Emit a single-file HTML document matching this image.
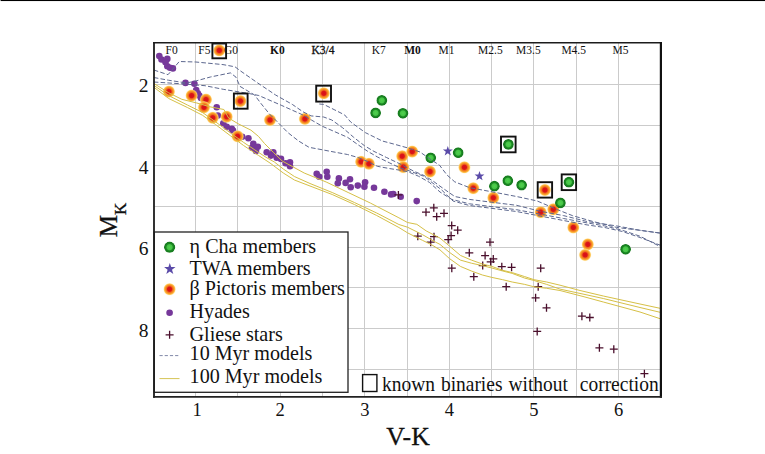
<!DOCTYPE html>
<html><head><meta charset="utf-8"><title>V-K vs MK</title>
<style>
html,body{margin:0;padding:0;background:#fff}
body{width:765px;height:454px;position:relative;overflow:hidden;font-family:"Liberation Serif",serif;color:#111}
div{position:absolute;white-space:nowrap;line-height:1}
.sp{top:43.8px;width:60px;text-align:center;font-size:11.5px;line-height:12px}
.xt{top:399.5px;width:40px;text-align:center;font-size:18.5px;line-height:20px}
.yt{left:119.5px;width:29px;text-align:right;font-size:19.5px;line-height:21px}
.lg{left:189.6px;font-size:20.1px;line-height:24px}
.kb{left:381.8px;top:372px;font-size:21.2px;line-height:24px;transform:scaleX(0.918);transform-origin:0 0;word-spacing:1.2px}
.xl{left:386.3px;top:423.4px;font-size:25.8px;line-height:28px;-webkit-text-stroke:0.3px #111}
.yl{left:59px;top:205.6px;width:100px;height:28px;font-size:25px;line-height:28px;text-align:center;transform:rotate(-90deg);transform-origin:50% 50%;-webkit-text-stroke:0.3px #111}
.yl span{font-size:17px;position:relative;top:9px}
</style></head><body>
<svg width="765" height="454" viewBox="0 0 765 454" style="position:absolute;left:0;top:0"><defs><radialGradient id="bp"><stop offset="0" stop-color="#d60f14"/><stop offset="0.34" stop-color="#dc161a"/><stop offset="0.5" stop-color="#ee6a1e"/><stop offset="0.7" stop-color="#f89a28"/><stop offset="0.84" stop-color="#ffc24e"/><stop offset="1" stop-color="#ffe6a0" stop-opacity="0.3"/></radialGradient><radialGradient id="gr"><stop offset="0" stop-color="#52cf50"/><stop offset="0.46" stop-color="#44c444"/><stop offset="0.64" stop-color="#1b8723"/><stop offset="0.92" stop-color="#157a1d"/><stop offset="1" stop-color="#157a1d" stop-opacity="0.55"/></radialGradient></defs><rect x="0" y="0" width="765" height="454" fill="#fff"/><rect x="0.6" y="0" width="765" height="1.05" fill="#000"/><path d="M195.5 42.7V396.8M237.5 42.7V396.8M280.5 42.7V396.8M322.5 42.7V396.8M364.5 42.7V396.8M407.5 42.7V396.8M449.5 42.7V396.8M491.5 42.7V396.8M533.5 42.7V396.8M576.5 42.7V396.8M618.5 42.7V396.8M154.0 84.5H660.9M154.0 125.5H660.9M154.0 165.5H660.9M154.0 206.5H660.9M154.0 247.5H660.9M154.0 287.5H660.9M154.0 328.5H660.9M154.0 369.5H660.9" stroke="#cbcbcb" stroke-width="1" fill="none"/><circle cx="159.3" cy="56" r="3.3" fill="#76389a"/><circle cx="161.5" cy="59.5" r="3.3" fill="#76389a"/><circle cx="167.3" cy="58.9" r="3.3" fill="#76389a"/><circle cx="165.5" cy="62.2" r="3.3" fill="#76389a"/><circle cx="167.3" cy="66.2" r="3.3" fill="#76389a"/><circle cx="172.9" cy="68.4" r="3.3" fill="#76389a"/><circle cx="170" cy="67.8" r="3.3" fill="#76389a"/><circle cx="185.5" cy="82.9" r="3.3" fill="#76389a"/><circle cx="194.4" cy="83.8" r="3.3" fill="#76389a"/><circle cx="196.2" cy="90" r="3.3" fill="#76389a"/><circle cx="197.8" cy="93.3" r="3.3" fill="#76389a"/><circle cx="199.3" cy="95.6" r="3.3" fill="#76389a"/><circle cx="201" cy="98" r="3.3" fill="#76389a"/><circle cx="216.7" cy="107.3" r="3.3" fill="#76389a"/><circle cx="217.8" cy="115.5" r="3.3" fill="#76389a"/><circle cx="223.3" cy="123.3" r="3.3" fill="#76389a"/><circle cx="226.7" cy="126.7" r="3.3" fill="#76389a"/><circle cx="231.8" cy="128.9" r="3.3" fill="#76389a"/><circle cx="233" cy="130.5" r="3.3" fill="#76389a"/><circle cx="242.2" cy="136.7" r="3.3" fill="#76389a"/><circle cx="248.4" cy="138.2" r="3.3" fill="#76389a"/><circle cx="253.3" cy="143.8" r="3.3" fill="#76389a"/><circle cx="257.8" cy="146.7" r="3.3" fill="#76389a"/><circle cx="252" cy="147.8" r="3.3" fill="#76389a"/><circle cx="256" cy="151" r="3.3" fill="#76389a"/><circle cx="266.7" cy="152.2" r="3.3" fill="#76389a"/><circle cx="273.3" cy="152.2" r="3.3" fill="#76389a"/><circle cx="271" cy="155.6" r="3.3" fill="#76389a"/><circle cx="276.7" cy="157.8" r="3.3" fill="#76389a"/><circle cx="281" cy="158.9" r="3.3" fill="#76389a"/><circle cx="285.6" cy="163.3" r="3.3" fill="#76389a"/><circle cx="290" cy="162.2" r="3.3" fill="#76389a"/><circle cx="290" cy="166.2" r="3.3" fill="#76389a"/><circle cx="316.7" cy="173.8" r="3.3" fill="#76389a"/><circle cx="319.3" cy="176.7" r="3.3" fill="#76389a"/><circle cx="326.7" cy="171.8" r="3.3" fill="#76389a"/><circle cx="327.3" cy="176.7" r="3.3" fill="#76389a"/><circle cx="338.9" cy="178.4" r="3.3" fill="#76389a"/><circle cx="337.8" cy="183.3" r="3.3" fill="#76389a"/><circle cx="345.6" cy="182.9" r="3.3" fill="#76389a"/><circle cx="350" cy="179.3" r="3.3" fill="#76389a"/><circle cx="350.7" cy="187.3" r="3.3" fill="#76389a"/><circle cx="357.8" cy="185.6" r="3.3" fill="#76389a"/><circle cx="365.1" cy="182.2" r="3.3" fill="#76389a"/><circle cx="364.4" cy="186.7" r="3.3" fill="#76389a"/><circle cx="374" cy="187.8" r="3.3" fill="#76389a"/><circle cx="384.4" cy="191.8" r="3.3" fill="#76389a"/><circle cx="391.1" cy="194.4" r="3.3" fill="#76389a"/><circle cx="393.3" cy="194" r="3.3" fill="#76389a"/><circle cx="400.7" cy="196.7" r="3.3" fill="#76389a"/><circle cx="416.7" cy="201.1" r="3.3" fill="#76389a"/><path d="M394.4 194.9h8M398.4 190.9v8M422.0 212.2h8M426.0 208.2v8M429.8 207.8h8M433.8 203.8v8M432.7 216.7h8M436.7 212.7v8M440.0 213.3h8M444.0 209.3v8M447.7 225.6h8M451.7 221.6v8M453.7 230.2h8M457.7 226.2v8M413.8 236.2h8M417.8 232.2v8M430.0 236.7h8M434.0 232.7v8M426.7 242.2h8M430.7 238.2v8M447.1 235.6h8M451.1 231.6v8M444.2 239.6h8M448.2 235.6v8M465.3 252.8h8M469.3 248.8v8M447.8 268.2h8M451.8 264.2v8M469.8 276.7h8M473.8 272.7v8M486.0 242.2h8M490.0 238.2v8M481.1 255.6h8M485.1 251.6v8M489.3 258.9h8M493.3 254.9v8M486.7 261.8h8M490.7 257.8v8M478.7 265.6h8M482.7 261.6v8M497.8 266.7h8M501.8 262.7v8M507.6 267.3h8M511.6 263.3v8M536.7 268.2h8M540.7 264.2v8M502.2 286.7h8M506.2 282.7v8M534.2 286.7h8M538.2 282.7v8M531.6 297.8h8M535.6 293.8v8M542.5 307.8h8M546.5 303.8v8M577.9 316.2h8M581.9 312.2v8M585.8 317.5h8M589.8 313.5v8M533.2 331.4h8M537.2 327.4v8M595.4 347.8h8M599.4 343.8v8M609.8 349.2h8M613.8 345.2v8M640.4 373.7h8M644.4 369.7v8" stroke="#4a0f2c" stroke-width="1.3" fill="none"/><circle cx="168.9" cy="91.6" r="6.3" fill="url(#bp)"/><circle cx="191.6" cy="95.6" r="6.3" fill="url(#bp)"/><circle cx="206" cy="99.6" r="6.3" fill="url(#bp)"/><circle cx="204" cy="107.3" r="6.3" fill="url(#bp)"/><circle cx="212.7" cy="117.8" r="6.3" fill="url(#bp)"/><circle cx="226.7" cy="116.7" r="6.3" fill="url(#bp)"/><circle cx="237.6" cy="136.3" r="6.3" fill="url(#bp)"/><circle cx="240.4" cy="101.1" r="6.3" fill="url(#bp)"/><circle cx="219.3" cy="50.4" r="6.3" fill="url(#bp)"/><circle cx="270" cy="120" r="6.3" fill="url(#bp)"/><circle cx="304.9" cy="118.9" r="6.3" fill="url(#bp)"/><circle cx="323.8" cy="93.3" r="6.3" fill="url(#bp)"/><circle cx="361.1" cy="161.8" r="6.3" fill="url(#bp)"/><circle cx="368.9" cy="163.8" r="6.3" fill="url(#bp)"/><circle cx="402.2" cy="156.2" r="6.3" fill="url(#bp)"/><circle cx="412.2" cy="151.6" r="6.3" fill="url(#bp)"/><circle cx="403.3" cy="167.1" r="6.3" fill="url(#bp)"/><circle cx="430" cy="171.6" r="6.3" fill="url(#bp)"/><circle cx="464.4" cy="167.3" r="6.3" fill="url(#bp)"/><circle cx="473.3" cy="188.2" r="6.3" fill="url(#bp)"/><circle cx="493.3" cy="197.8" r="6.3" fill="url(#bp)"/><circle cx="544.9" cy="190" r="6.3" fill="url(#bp)"/><circle cx="540.7" cy="212.2" r="6.3" fill="url(#bp)"/><circle cx="553.3" cy="209.3" r="6.3" fill="url(#bp)"/><circle cx="573.3" cy="227.5" r="6.3" fill="url(#bp)"/><circle cx="587.8" cy="244.4" r="6.3" fill="url(#bp)"/><circle cx="585.1" cy="254.9" r="6.3" fill="url(#bp)"/><circle cx="381.8" cy="100.4" r="5.4" fill="url(#gr)"/><circle cx="375.6" cy="112.9" r="5.4" fill="url(#gr)"/><circle cx="402.9" cy="113.3" r="5.4" fill="url(#gr)"/><circle cx="430.7" cy="157.8" r="5.4" fill="url(#gr)"/><circle cx="458.2" cy="152.7" r="5.4" fill="url(#gr)"/><circle cx="508.4" cy="144.4" r="5.4" fill="url(#gr)"/><circle cx="494.4" cy="186.2" r="5.4" fill="url(#gr)"/><circle cx="507.8" cy="180.7" r="5.4" fill="url(#gr)"/><circle cx="521.6" cy="185.1" r="5.4" fill="url(#gr)"/><circle cx="568.9" cy="182.2" r="5.4" fill="url(#gr)"/><circle cx="560.4" cy="202.9" r="5.4" fill="url(#gr)"/><circle cx="625.6" cy="249.3" r="5.4" fill="url(#gr)"/><polyline points="153.8,83.4 168.7,92.8 181.8,99.3 196.8,103.0 209.9,106.8 223.9,109.5 228.6,118.0 238.0,123.7 251.0,130.2 258.6,136.5 264.5,143.5 273.3,152.3 282.2,161.0 304.2,173.0 326.2,182.0 348.2,192.5 370.3,203.0 398.9,217.8 407.5,222.5 416.8,224.3 426.2,230.9 440.0,238.1 449.4,246.0 460.4,255.4 471.4,260.1 482.4,264.0 491.8,266.4 502.7,270.3 512.2,272.6 524.7,276.6 534.1,279.7 546.7,282.0 560.0,285.2 580.0,290.5 603.3,296.0 640.0,304.0 661.0,308.5" fill="none" stroke="#d6c046" stroke-width="1"/><polyline points="153.8,85.3 168.7,95.6 187.4,105.0 202.4,112.4 215.5,121.8 230.5,133.0 243.6,142.4 254.8,149.9 266.0,157.3 274.4,162.0 283.3,169.0 294.4,176.5 310.0,183.5 332.2,192.5 354.4,202.5 376.7,213.0 398.9,224.5 407.5,227.2 422.4,234.6 435.5,242.1 440.0,244.4 449.4,252.3 460.4,260.1 471.4,263.2 482.4,265.6 491.8,268.0 502.7,271.0 512.2,273.4 524.7,278.1 534.1,280.5 546.7,284.4 560.0,289.1 585.0,294.5 603.3,298.5 640.0,307.5 661.0,312.5" fill="none" stroke="#d6c046" stroke-width="1"/><polyline points="153.8,87.2 168.7,98.5 187.4,107.5 202.4,115.2 215.5,124.5 230.5,135.8 243.6,145.5 258.6,155.5 270.0,163.0 283.3,173.0 294.4,180.0 310.0,186.0 332.2,194.5 354.4,204.5 376.7,215.5 398.9,227.5 407.5,232.8 422.4,240.3 431.8,244.9 440.0,249.9 449.4,258.5 460.4,266.4 471.4,271.0 482.4,275.0 491.8,277.4 502.7,279.7 512.2,282.0 524.7,284.4 534.1,286.8 546.7,288.3 560.0,290.5 585.0,297.0 603.3,302.0 640.0,312.0 661.0,319.0" fill="none" stroke="#d6c046" stroke-width="1"/><polyline points="153.8,70.0 168.0,74.7 179.3,61.5 195.8,62.0 223.0,64.6 235.0,66.8 240.0,70.6 257.6,82.9 275.6,95.0 292.3,104.4 302.8,111.7 311.1,115.9 323.7,117.0 331.8,120.0 342.7,127.8 353.7,137.3 364.7,145.9 374.0,151.4 386.7,157.6 400.0,163.9 413.4,171.0 424.0,175.5 433.0,181.0 440.0,186.2 454.7,196.5 469.4,199.4 493.0,202.4 516.5,205.3 540.0,211.2 563.5,215.6 587.0,221.5 616.5,225.9 640.0,230.3 661.0,233.2" fill="none" stroke="#5d688f" stroke-width="1" stroke-dasharray="4.6 2.2"/><polyline points="153.8,77.5 168.3,80.2 186.6,83.0 195.8,81.0 210.4,77.0 230.5,72.9 236.0,77.2 240.0,86.4 254.6,95.0 260.9,103.4 269.3,113.8 277.7,122.2 288.0,132.7 298.6,141.0 309.0,147.3 322.4,149.8 335.0,152.2 347.5,154.5 358.4,157.6 367.8,161.6 377.3,166.3 389.8,168.6 400.0,170.2 408.0,171.7 418.7,176.3 429.3,182.3 440.0,192.0 451.8,199.4 469.4,203.8 493.0,206.8 516.5,209.7 540.0,214.1 563.5,218.5 587.0,222.9 604.7,225.9 622.4,230.3 640.0,236.2 661.0,247.0" fill="none" stroke="#5d688f" stroke-width="1" stroke-dasharray="4.6 2.2"/><polyline points="153.8,82.0 183.0,83.9 205.0,85.7 223.2,89.3 248.8,93.5 258.8,95.5 281.8,105.5 302.8,114.9 311.4,120.0 322.4,126.3 335.0,131.8 347.5,137.3 358.4,145.0 367.8,151.4 377.3,156.9 389.8,163.0 400.0,167.8 408.0,170.4 424.0,176.3 441.7,190.0 453.0,201.0 469.4,205.5 493.0,208.5 516.5,211.5 540.0,216.0 563.5,220.5 587.0,224.9 604.7,227.5 622.4,231.5 640.0,237.5 661.0,245.5" fill="none" stroke="#5d688f" stroke-width="1" stroke-dasharray="4.6 2.2"/><polyline points="319.3,104.0 323.7,104.4 334.1,109.6 344.6,114.9 350.9,122.2 365.5,132.7 382.3,141.0 393.6,144.0 408.0,148.0 420.0,152.0 429.3,158.5 439.5,165.2 447.0,175.0 454.7,181.8 469.4,187.6 493.0,192.0 516.5,196.5 537.0,200.9 557.6,209.7 572.4,215.6 593.0,221.5 616.5,227.4 640.0,230.3 661.0,233.2" fill="none" stroke="#5d688f" stroke-width="1" stroke-dasharray="4.6 2.2"/><polygon points="447.8,146.0 449.0,149.5 452.7,149.6 449.8,151.8 450.9,155.4 447.8,153.3 444.7,155.4 445.8,151.8 442.9,149.6 446.6,149.5" fill="#5a4aa8"/><polygon points="479.5,170.9 480.7,174.4 484.4,174.5 481.5,176.7 482.6,180.3 479.5,178.2 476.4,180.3 477.5,176.7 474.6,174.5 478.3,174.4" fill="#5a4aa8"/><rect x="212.4" y="43.5" width="13.7" height="14.8" fill="none" stroke="#111" stroke-width="1.9"/><rect x="233.9" y="93.5" width="13.7" height="15.2" fill="none" stroke="#111" stroke-width="1.9"/><rect x="316.2" y="85.7" width="14.8" height="15.9" fill="none" stroke="#111" stroke-width="1.9"/><rect x="501.0" y="136.6" width="14.6" height="15.7" fill="none" stroke="#111" stroke-width="1.9"/><rect x="561.7" y="174.4" width="14.4" height="15.7" fill="none" stroke="#111" stroke-width="1.9"/><rect x="537.7" y="182.2" width="14.4" height="15.4" fill="none" stroke="#111" stroke-width="1.9"/><rect x="154.2" y="232.0" width="193.8" height="160.3" fill="#fff" stroke="#222" stroke-width="1.3"/><circle cx="169.6" cy="247.2" r="5.6" fill="url(#gr)"/><polygon points="169.8,263.0 171.2,267.1 175.5,267.1 172.0,269.7 173.3,273.9 169.8,271.4 166.3,273.9 167.6,269.7 164.1,267.1 168.4,267.1" fill="#5a4aa8"/><circle cx="169.6" cy="289.2" r="6.3" fill="url(#bp)"/><circle cx="169.6" cy="312.8" r="3.3" fill="#76389a"/><path d="M165.6 334.8h8M169.6 330.8v8" stroke="#4a0f2c" stroke-width="1.3"/><path d="M159.5 355.6H180" stroke="#8088a8" stroke-width="1" stroke-dasharray="3.2 2"/><path d="M159.5 378.6H179.5" stroke="#d6c455" stroke-width="1"/><rect x="362.6" y="374.6" width="14.3" height="16.9" fill="#fff" stroke="#111" stroke-width="1.4"/><path d="M154.0 42.0V397.7" stroke="#1c1c1c" stroke-width="1.8" fill="none"/><path d="M153.1 42.7H662.0" stroke="#1c1c1c" stroke-width="1.4" fill="none"/><path d="M660.9 42.0V397.7" stroke="#111" stroke-width="2.2" fill="none"/><path d="M153.1 396.8H662.0" stroke="#222" stroke-width="1.8" fill="none"/></svg>
<div class="sp" style="left:141.7px">F0</div><div class="sp" style="left:174.4px">F5</div><div class="sp" style="left:201.1px">G0</div><div class="sp" style="left:247.4px;font-weight:bold">K0</div><div class="sp" style="left:293.0px;-webkit-text-stroke:0.3px #111">K3/4</div><div class="sp" style="left:348.8px">K7</div><div class="sp" style="left:382.5px;font-weight:bold">M0</div><div class="sp" style="left:416.5px">M1</div><div class="sp" style="left:460.4px">M2.5</div><div class="sp" style="left:498.4px">M3.5</div><div class="sp" style="left:543.7px">M4.5</div><div class="sp" style="left:590.5px">M5</div><div class="xt" style="left:177.1px">1</div><div class="xt" style="left:260.2px">2</div><div class="xt" style="left:344.8px">3</div><div class="xt" style="left:429.3px">4</div><div class="xt" style="left:513.9px">5</div><div class="xt" style="left:598.5px">6</div><div class="yt" style="top:75.3px">2</div><div class="yt" style="top:156.7px">4</div><div class="yt" style="top:238.1px">6</div><div class="yt" style="top:319.5px">8</div><div class="lg" style="top:234.0px">η Cha members</div><div class="lg" style="top:256.0px">TWA members</div><div class="lg" style="top:276.3px">β Pictoris members</div><div class="lg" style="top:299.0px">Hyades</div><div class="lg" style="top:321.6px">Gliese stars</div><div class="lg" style="top:341.0px">10 Myr models</div><div class="lg" style="top:364.0px">100 Myr models</div><div class="kb">known binaries without&nbsp; correction</div><div class="xl">V-K</div><div class="yl">M<span>K</span></div>
</body></html>
